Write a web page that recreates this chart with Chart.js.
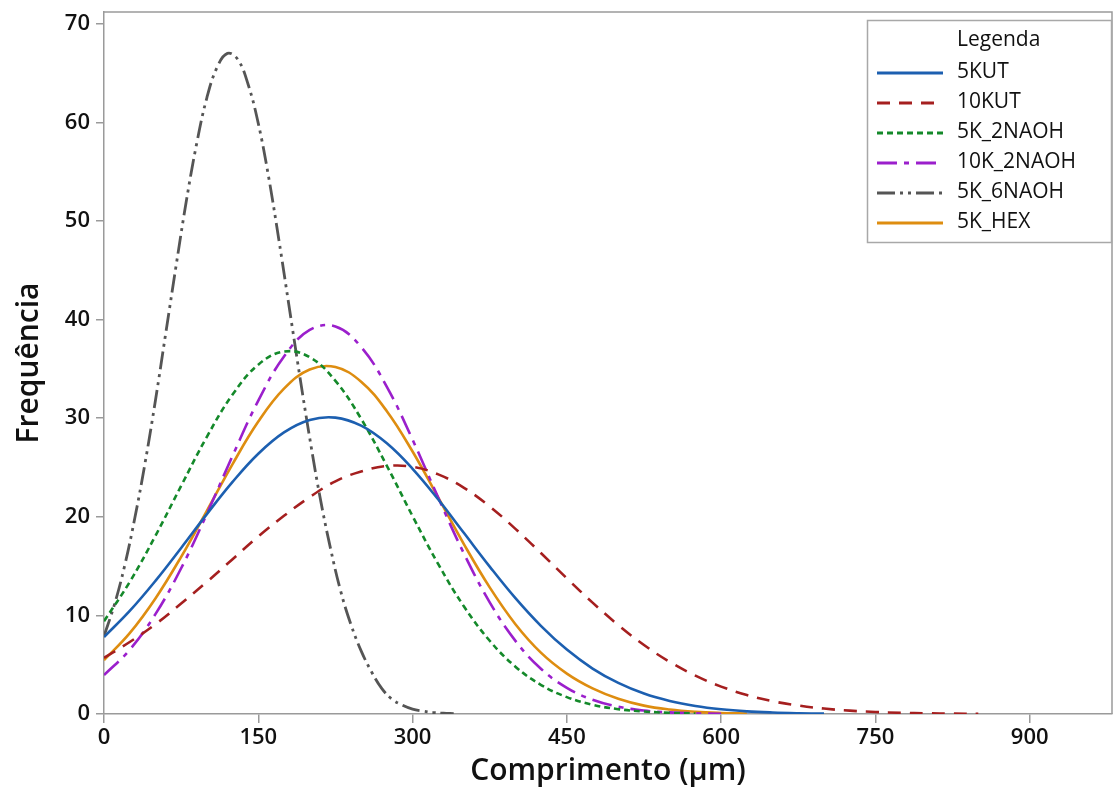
<!DOCTYPE html>
<html>
<head>
<meta charset="utf-8">
<title>Distribuição de comprimento</title>
<script src="https://cdn.jsdelivr.net/npm/chart.js@4.4.1/dist/chart.umd.min.js"></script>
<style>
  html, body { margin: 0; padding: 0; background: #ffffff; overflow: hidden; }
  #wrap { position: relative; width: 1114px; height: 796px; }
</style>
</head>
<body>
<div id="wrap"><canvas id="grafico"></canvas></div>
<script>
// Comprimento (µm) grids used by the fitted curves
const gridFino = [0,10,20,30,40,50,60,70,80,90,100,110,120,130,140,150,160,170,180,190,200,
  210,220,230,240,250,260,270,280,290,300,310,320,330,340];
const grid25 = [0,25,50,75,100,125,150,175,200,225,250,275,300,325,350,375,400,425,450,475,500,
  525,550,575,600,625,650,675,700,725,750,775,800,825,850];

// Frequência for each sample
const serie5KUT = [7.81, 10.45, 13.5, 16.84, 20.27, 23.54, 26.4, 28.56, 29.82, 30.06, 29.24, 27.45,
  24.87, 21.75, 18.35, 14.95, 11.75, 8.92, 6.53, 4.61, 3.15, 2.07, 1.32, 0.81, 0.48, 0.27, 0.15, 0.08, 0.04];
const serie10KUT = [5.7, 7.3, 9.1, 11.2, 13.4, 15.7, 18.0, 20.1, 22.0, 23.6, 24.6, 25.15, 25.07, 24.3,
  22.94, 21.05, 18.78, 16.3, 13.76, 11.3, 9.02, 7.0, 5.29, 3.89, 2.78, 1.93, 1.3, 0.86, 0.55, 0.34,
  0.21, 0.12, 0.07, 0.04, 0.02];
const serie5K2NAOH = [9.41, 13.39, 18.07, 23.14, 28.11, 32.4, 35.43, 36.76, 36.19, 33.79, 29.94, 25.17,
  20.07, 15.19, 10.9, 7.43, 4.8, 2.94, 1.71, 0.94, 0.49, 0.25, 0.12, 0.05];
const serie10K2NAOH = [3.95, 6.52, 10.13, 14.78, 20.3, 26.19, 31.78, 36.26, 38.95, 39.3, 37.22, 33.19,
  27.82, 21.93, 16.26, 11.33, 7.42, 4.57, 2.65, 1.44, 0.74, 0.35, 0.16, 0.07, 0.03];
const serie5K6NAOH = [7.9, 11.05, 15.0, 19.9, 25.5, 31.8, 38.6, 45.4, 52.0, 57.8, 62.5, 65.6, 67.0, 66.4,
  63.9, 59.9, 54.5, 48.1, 41.3, 34.5, 28.0, 22.0, 16.9, 12.5, 9.1, 6.4, 4.3, 2.6, 1.5, 0.9, 0.5, 0.3,
  0.15, 0.08, 0.04];
const serie5KHEX = [5.46, 8.2, 11.72, 15.94, 20.61, 25.35, 29.66, 33.0, 34.94, 35.19, 33.7, 30.71, 26.62,
  21.95, 17.21, 12.84, 9.11, 6.2, 4.1, 2.6, 1.55, 0.85, 0.45, 0.22, 0.1, 0.04];

const nomes = ['5KUT', '10KUT', '5K_2NAOH', '10K_2NAOH', '5K_6NAOH', '5K_HEX'];
const ticksX = [0, 150, 300, 450, 600, 750, 900];
const ticksY = [0, 10, 20, 30, 40, 50, 60, 70];
const tituloLegenda = 'Legenda';

const pares = (xs, ys) => ys.map((y, i) => ({ x: xs[i], y }));

const estilos = [
  { cor: '#1c5fb0', dash: [],                  largura: 2.6 },
  { cor: '#a51f1f', dash: [13, 9],             largura: 2.6 },
  { cor: '#14892a', dash: [6, 4],              largura: 2.6 },
  { cor: '#9b1fcc', dash: [20, 7, 5, 7],       largura: 2.6 },
  { cor: '#555555', dash: [18, 5, 3, 5, 3, 5], largura: 2.8 },
  { cor: '#de8d10', dash: [],                  largura: 2.6 }
];

const dadosSeries = [
  pares(grid25, serie5KUT),
  pares(grid25, serie10KUT),
  pares(grid25, serie5K2NAOH),
  pares(grid25, serie10K2NAOH),
  pares(gridFino, serie5K6NAOH),
  pares(grid25, serie5KHEX)
];

const datasets = nomes.map((nome, i) => ({
  label: nome,
  data: dadosSeries[i],
  borderColor: estilos[i].cor,
  backgroundColor: estilos[i].cor,
  borderDash: estilos[i].dash,
  borderWidth: estilos[i].largura,
  pointRadius: 0,
  pointHoverRadius: 0,
  fill: false,
  tension: 0.4
}));

const corEixo = '#9a9a9a';
const corTexto = '#111111';
const fonte = '"Open Sans", "Noto Sans", sans-serif';

// Upper and right border of the plot region
const moldura = {
  id: 'moldura',
  afterDraw(chart) {
    const { ctx, chartArea: a } = chart;
    ctx.save();
    ctx.strokeStyle = corEixo;
    ctx.lineWidth = 1.5;
    ctx.beginPath();
    ctx.moveTo(a.left, a.top);
    ctx.lineTo(a.right, a.top);
    ctx.lineTo(a.right, a.bottom);
    ctx.stroke();
    ctx.restore();
  }
};

// Boxed legend in the upper right corner of the plot
const caixaLegenda = {
  id: 'caixaLegenda',
  afterDraw(chart) {
    const { ctx, chartArea: a } = chart;
    const w = 245, h = 223;
    const x0 = a.right - w, y0 = a.top + 8;
    ctx.save();
    ctx.fillStyle = '#ffffff';
    ctx.fillRect(x0, y0, w, h);
    ctx.strokeStyle = '#a8a8a8';
    ctx.lineWidth = 1.5;
    ctx.strokeRect(x0 + 0.5, y0 + 0.5, w - 1, h - 1);
    ctx.font = '21px ' + fonte;
    ctx.fillStyle = corTexto;
    ctx.textBaseline = 'middle';
    ctx.textAlign = 'left';
    const textoX = x0 + 90;
    ctx.fillText(tituloLegenda, textoX, y0 + 20);
    chart.data.datasets.forEach((ds, i) => {
      const yc = y0 + 53 + i * 30;
      ctx.beginPath();
      ctx.setLineDash(ds.borderDash);
      ctx.strokeStyle = ds.borderColor;
      ctx.lineWidth = 3;
      ctx.moveTo(x0 + 10, yc);
      ctx.lineTo(x0 + 76, yc);
      ctx.stroke();
      ctx.setLineDash([]);
      ctx.fillText(ds.label, textoX, yc - 1);
    });
    ctx.restore();
  }
};

new Chart(document.getElementById('grafico'), {
  type: 'line',
  data: { datasets },
  plugins: [moldura, caixaLegenda],
  options: {
    responsive: true,
    maintainAspectRatio: false,
    animation: false,
    events: [],
    layout: { padding: { top: 12, right: 2, left: 0, bottom: 0 } },
    plugins: {
      legend: { display: false },
      tooltip: { enabled: false }
    },
    scales: {
      x: {
        type: 'linear',
        min: 0,
        max: 980,
        afterBuildTicks: (s) => { s.ticks = ticksX.map(v => ({ value: v })); },
        afterFit: (s) => { s.height = 82; s.paddingLeft = 0; s.paddingRight = 0; },
        ticks: {
          color: corTexto,
          font: { family: fonte, size: 22, weight: '600' },
          padding: 2,
          maxRotation: 0,
          autoSkip: false
        },
        grid: { display: true, drawOnChartArea: false, drawTicks: true, tickLength: 9, color: corEixo, lineWidth: 1.5 },
        border: { display: true, color: corEixo, width: 1.5 },
        title: {
          display: true,
          text: 'Comprimento (µm)',
          color: corTexto,
          font: { family: fonte, size: 30, weight: '600' },
          padding: { top: 0, bottom: 7 }
        }
      },
      y: {
        type: 'linear',
        min: 0,
        max: 71.2,
        afterBuildTicks: (s) => { s.ticks = ticksY.map(v => ({ value: v })); },
        afterFit: (s) => { s.width = 104; s.paddingTop = 0; s.paddingBottom = 0; },
        ticks: {
          color: corTexto,
          font: { family: fonte, size: 22, weight: '600' },
          padding: 6,
          autoSkip: false
        },
        grid: { display: true, drawOnChartArea: false, drawTicks: true, tickLength: 8, color: corEixo, lineWidth: 1.5 },
        border: { display: true, color: corEixo, width: 1.5 },
        title: {
          display: true,
          text: 'Frequência',
          color: corTexto,
          font: { family: fonte, size: 30, weight: '600' },
          padding: { top: 11, bottom: 0 }
        }
      }
    }
  }
});
</script>
</body>
</html>
